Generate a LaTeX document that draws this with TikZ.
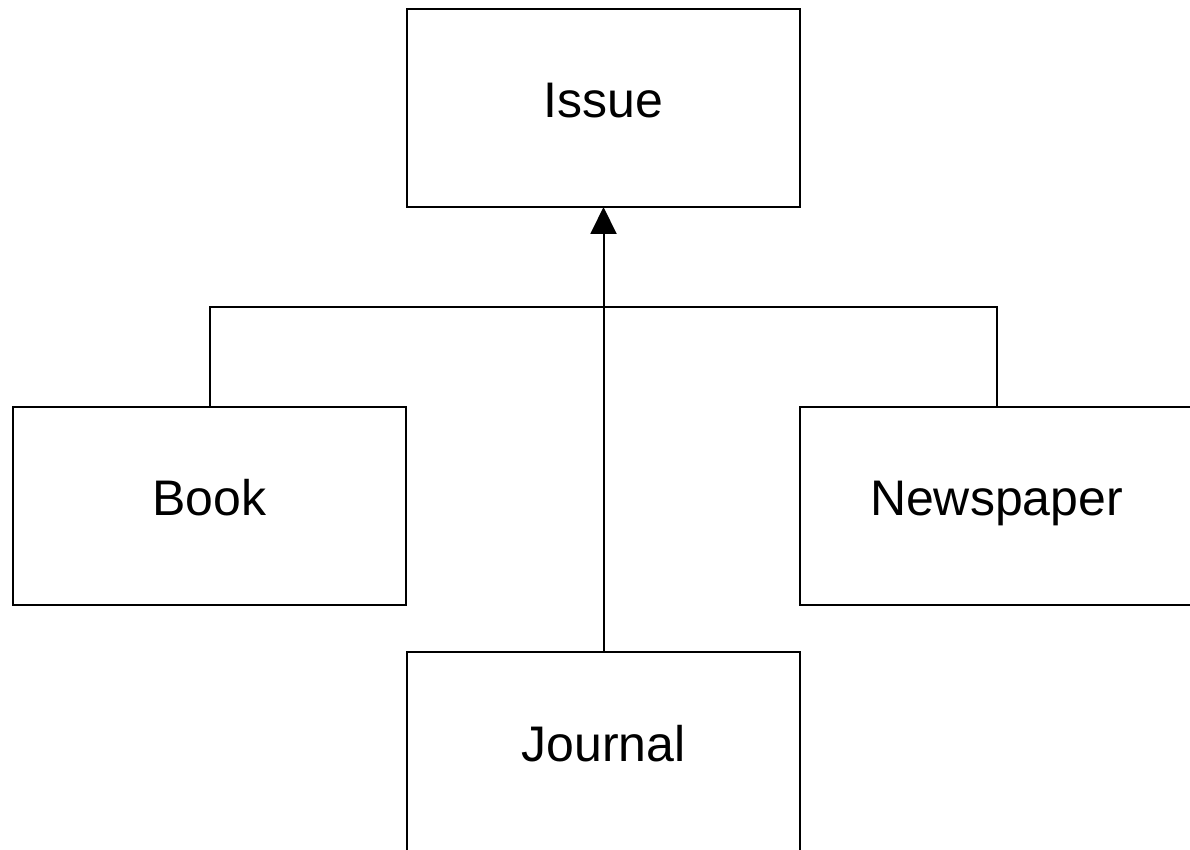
\documentclass[tikz,border=0pt]{standalone}
\usepackage{fontspec}
\setmainfont{Liberation Sans}
\usetikzlibrary{arrows.meta}
\begin{document}
\begin{tikzpicture}[x=1pt,y=-1pt,
  cls/.style={draw=black, line width=2pt, minimum width=393pt, minimum height=198pt, inner sep=0pt, outer sep=0pt, text height=36pt, text depth=16pt, font=\fontsize{50}{60}\selectfont},
  conn/.style={draw=black, line width=2pt}]
\useasboundingbox (0,0) rectangle (1190,850);
\begin{scope}
\clip (0,0) rectangle (1190,850);
\node[cls] (issue) at (603.5,108) {Issue};
\node[cls] (book) at (209.5,505.5) {Book};
\node[cls] (news) at (996.5,505.5) {Newspaper};
\node[cls, minimum height=210pt, text height=36pt, text depth=28pt] (journal) at (603.5,757) {Journal};
\coordinate (bar) at (603.5,307);
\draw[conn] (book.north) |- (bar) -| (news.north);
\draw[conn, -{Triangle[length=27pt,width=26pt]}] (journal.north) -- (issue.south);
\end{scope}
\end{tikzpicture}
\end{document}
